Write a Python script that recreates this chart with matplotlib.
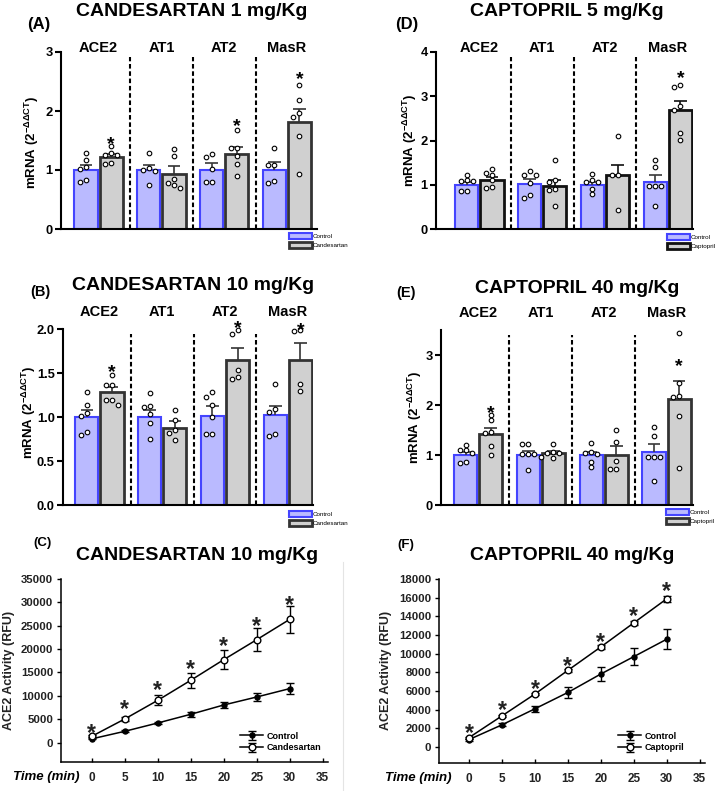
import matplotlib
matplotlib.use("Agg")
import matplotlib.pyplot as plt
from matplotlib.lines import Line2D
from matplotlib.transforms import blended_transform_factory
import numpy as np

plt.rcParams['font.family'] = ['Liberation Sans', 'DejaVu Sans']
plt.rcParams['mathtext.default'] = 'regular'

W, H = 720, 791
fig = plt.figure(figsize=(W / 100, H / 100), dpi=100)

genes = ["ACE2", "AT1", "AT2", "MasR"]

# ---------------- Panel A: Candesartan 1 mg/Kg ----------------
A_ctrl_mean = [1.00, 1.00, 1.00, 1.00]
A_ctrl_sem = [0.09, 0.08, 0.12, 0.13]
A_trt_mean = [1.22, 0.93, 1.27, 1.82]
A_trt_sem = [0.05, 0.13, 0.12, 0.22]
A_ctrl_pts = [[1.28, 1.17, 1.05, 1.02, 0.83, 0.80], [1.28, 1.03, 1.00, 0.98, 0.75],
              [1.27, 1.22, 1.02, 0.80, 0.80], [1.38, 1.08, 1.08, 0.81, 0.78]]
A_trt_pts = [[1.40, 1.28, 1.26, 1.26, 1.12, 1.10], [1.35, 1.23, 0.84, 0.78, 0.75, 0.70],
             [1.68, 1.38, 1.37, 1.23, 1.11, 0.89], [2.44, 2.19, 1.97, 1.90, 1.57, 0.93]]
A_stars = [1.54, None, 1.85, 2.64]

# ---------------- Panel B: Candesartan 10 mg/Kg ----------------
B_ctrl_mean = [1.00, 1.00, 1.01, 1.02]
B_ctrl_sem = [0.08, 0.08, 0.11, 0.11]
B_trt_mean = [1.28, 0.88, 1.65, 1.65]
B_trt_sem = [0.065, 0.07, 0.13, 0.19]
B_ctrl_pts = [[1.28, 1.14, 1.04, 1.01, 0.83, 0.80], [1.27, 1.13, 1.11, 1.03, 0.93, 0.75],
              [1.28, 1.23, 1.14, 1.00, 0.81, 0.81], [1.38, 1.09, 1.06, 0.81, 0.78]]
B_trt_pts = [[1.48, 1.36, 1.36, 1.19, 1.19, 1.14], [1.08, 0.97, 0.85, 0.82, 0.74],
             [1.99, 1.94, 1.53, 1.46, 1.43], [1.99, 1.98, 1.38, 1.29]]
B_stars = [1.58, None, 2.08, 2.06]

# ---------------- Panel D: Captopril 5 mg/Kg ----------------
D_ctrl_mean = [1.00, 1.02, 1.00, 1.06]
D_ctrl_sem = [0.07, 0.12, 0.07, 0.16]
D_trt_mean = [1.10, 0.97, 1.22, 2.68]
D_trt_sem = [0.08, 0.14, 0.23, 0.22]
D_ctrl_pts = [[1.22, 1.10, 1.08, 1.08, 0.87, 0.86], [1.32, 1.23, 1.23, 1.05, 0.76, 0.71],
              [1.25, 1.10, 1.06, 1.06, 0.91, 0.78], [1.57, 1.40, 0.98, 0.98, 0.98, 0.51]]
D_trt_pts = [[1.36, 1.27, 1.21, 1.10, 0.95, 0.92], [1.55, 1.10, 1.06, 0.90, 0.88, 0.53],
             [2.10, 1.21, 1.21, 0.42], [3.26, 3.22, 2.77, 2.68, 2.18, 2.02]]
D_stars = [None, None, None, 3.54]

# ---------------- Panel E: Captopril 40 mg/Kg ----------------
E_ctrl_mean = [1.00, 1.01, 1.00, 1.06]
E_ctrl_sem = [0.06, 0.08, 0.07, 0.16]
E_trt_mean = [1.42, 1.04, 1.01, 2.12]
E_trt_sem = [0.13, 0.05, 0.17, 0.37]
E_ctrl_pts = [[1.21, 1.11, 1.11, 1.05, 0.87, 0.85], [1.22, 1.22, 1.02, 1.02, 1.02, 0.70],
              [1.25, 1.07, 1.05, 1.02, 0.87, 0.77], [1.57, 1.39, 0.97, 0.97, 0.97, 0.49]]
E_trt_pts = [[1.80, 1.70, 1.47, 1.45, 1.18, 1.01], [1.22, 1.06, 1.05, 1.04, 0.97, 0.95],
             [1.50, 1.27, 0.89, 0.72, 0.72], [3.45, 2.45, 2.18, 2.17, 1.78, 0.75]]
E_stars = [1.97, None, None, 2.90]

# ---------------- Panels C and F: ACE2 activity ----------------
time_min = [0, 5, 10, 15, 20, 25, 30]
C_ctrl = [800, 2420, 4200, 6060, 8050, 9760, 11550]
C_ctrl_sem = [100, 200, 300, 500, 640, 850, 1140]
C_trt = [1350, 5060, 9050, 13330, 17750, 22020, 26370]
C_trt_sem = [250, 430, 1070, 1570, 1960, 2420, 2920]
C_stars = [3350, 8480, 12470, 17030, 22020, 26160, 30790]

F_ctrl = [790, 2370, 4090, 5840, 7820, 9680, 11550]
F_ctrl_sem = [100, 150, 300, 600, 750, 950, 1100]
F_trt = [1000, 3330, 5670, 8210, 10720, 13300, 15880]
F_trt_sem = [120, 120, 150, 150, 200, 250, 350]
F_stars = [2150, 4660, 6880, 9320, 11900, 14700, 17390]

CTRL_FILL = "#babaff"
CTRL_EDGE = "#4444ff"
TRT_FILL = "#d0d0d0"


def px_axes(x0, y0, x1, y1):
    return fig.add_axes([x0 / W, 1 - y1 / H, (x1 - x0) / W, (y1 - y0) / H])


def fig_y(py):
    return 1 - py / H


def swarm(vals, ppu_y, ppu_x, diam=4.8, step=6.0):
    placed = []
    offs = []
    for v in vals:
        for k in [0, -1, 1, -2, 2, -3, 3]:
            dx = k * step
            ok = True
            for pv, pdx in placed:
                if abs(pdx - dx) < diam and abs(pv - v) * ppu_y < diam:
                    ok = False
                    break
            if ok:
                break
        placed.append((v, dx))
        offs.append(dx / ppu_x)
    return np.array(offs)


def bar_panel(rect, xlim, ylim, yticks, yfmt, cm, cs, cp, tm, ts, tp, stars,
              trt_label, trt_edge, title, title_xy, plabel, plabel_xy, plabel_fs,
              cat_y, leg_xy, ylab_xy):
    x0, y0, x1, y1 = rect
    ax = px_axes(*rect)
    ax.set_xlim(*xlim)
    ax.set_ylim(*ylim)
    ppu_x = (x1 - x0) / (xlim[1] - xlim[0])
    ppu_y = (y1 - y0) / (ylim[1] - ylim[0])
    idx = np.arange(len(genes))
    off, bw = 0.2, 0.37
    b1 = ax.bar(idx - off, cm, bw, color=CTRL_FILL, edgecolor=CTRL_EDGE, linewidth=1.5, zorder=2)
    b2 = ax.bar(idx + off, tm, bw, color=TRT_FILL, edgecolor=trt_edge, linewidth=2.0, zorder=2)
    cm_, cs_, tm_, ts_ = map(np.asarray, (cm, cs, tm, ts))
    for xs, m, s, col in [(idx - off, cm_, cs_, "#3a3a3a"), (idx + off, tm_, ts_, trt_edge)]:
        ax.vlines(xs, m, m + s, color=col, lw=1.2, zorder=3)
        ax.hlines(m + s, xs - 0.1, xs + 0.1, color=col, lw=1.2, zorder=3)
    for i in idx:
        for pts, c in [(cp[i], i - off), (tp[i], i + off)]:
            dx = swarm(pts, ppu_y, ppu_x)
            ax.plot(c + dx, pts, 'o', ms=3.3, mfc='white', mec='black', mew=0.8,
                    ls='none', zorder=4, clip_on=False)
        if stars[i] is not None:
            ax.annotate("*", (i + off, stars[i]), xytext=(0, -8.0), textcoords="offset points",
                        ha="center", va="baseline", fontsize=14, fontweight="bold",
                        annotation_clip=False, zorder=5)
    for d in idx[:-1] + 0.5:
        ax.axvline(d, ymin=0, ymax=0.97, color="black", lw=1.5, ls=(0, (2.2, 1.3)), zorder=1)
    for s in ["top", "right"]:
        ax.spines[s].set_visible(False)
    ax.spines["left"].set_linewidth(1.5)
    ax.spines["bottom"].set_linewidth(1.5)
    ax.spines["left"].set_bounds(ylim[0], ylim[1])
    ax.set_xticks([])
    ax.set_yticks(yticks)
    ax.set_yticklabels([yfmt.format(t) for t in yticks], fontsize=9.3, fontweight="bold")
    ax.tick_params(axis="y", length=4.5, width=1.5, pad=1.5)
    tr = blended_transform_factory(ax.transData, fig.transFigure)
    for i, g in enumerate(genes):
        ax.text(i, fig_y(cat_y), g, transform=tr, ha="center", va="center",
                fontsize=10.5, fontweight="bold")
    fig.text(title_xy[0] / W, fig_y(title_xy[1]), title, ha="center", va="center",
             fontsize=14, fontweight="bold")
    fig.text(plabel_xy[0] / W, fig_y(plabel_xy[1]), plabel, ha="left", va="center",
             fontsize=plabel_fs, fontweight="bold")
    fig.text(ylab_xy[0] / W, fig_y(ylab_xy[1]), "mRNA (2$^{-ΔΔCT}$)", rotation=90,
             ha="center", va="center", fontsize=9.5, fontweight="bold")
    ax.legend([b1, b2], ["Control", trt_label], loc="upper left",
              bbox_to_anchor=(leg_xy[0] / W, fig_y(leg_xy[1])), bbox_transform=fig.transFigure,
              frameon=False, fontsize=4.5, handlelength=3.6, handleheight=1.15,
              borderpad=0, borderaxespad=0, labelspacing=0.45, handletextpad=0.15)
    return ax


bar_panel((61, 52, 317, 229), (-0.6, 3.48), (0, 3), [0, 1, 2, 3], "{:g}",
          A_ctrl_mean, A_ctrl_sem, A_ctrl_pts, A_trt_mean, A_trt_sem, A_trt_pts, A_stars,
          "Candesartan", "#333333", "CANDESARTAN 1 mg/Kg", (192, 11), "(A)", (27, 24), 12,
          48, (289, 233), (32, 142))

bar_panel((436, 52, 693, 229), (-0.69, 3.40), (0, 4), [0, 1, 2, 3, 4], "{:g}",
          D_ctrl_mean, D_ctrl_sem, D_ctrl_pts, D_trt_mean, D_trt_sem, D_trt_pts, D_stars,
          "Captopril", "#111111", "CAPTOPRIL 5 mg/Kg", (567, 11), "(D)", (395, 24), 12,
          48, (667, 234), (410, 140))

bar_panel((63, 329, 313, 505), (-0.58, 3.40), (0, 2.0), [0, 0.5, 1.0, 1.5, 2.0], "{:.1f}",
          B_ctrl_mean, B_ctrl_sem, B_ctrl_pts, B_trt_mean, B_trt_sem, B_trt_pts, B_stars,
          "Candesartan", "#333333", "CANDESARTAN 10 mg/Kg", (193, 285), "(B)", (30, 292), 10.5,
          312, (289, 511), (29, 412))

bar_panel((441, 330, 693, 505), (-0.59, 3.42), (0, 3.5), [0, 1, 2, 3], "{:g}",
          E_ctrl_mean, E_ctrl_sem, E_ctrl_pts, E_trt_mean, E_trt_sem, E_trt_pts, E_stars,
          "Captopril", "#333333", "CAPTOPRIL 40 mg/Kg", (577, 288), "(E)", (396, 293), 10.5,
          313, (666, 509), (415, 417))


def line_panel(rect, xlim, ylim, yticks, cm, cs, tm, ts, stars, trt_label, title, title_xy,
               plabel, plabel_xy, time_xy, ylab_xy, leg_xy):
    ax = px_axes(*rect)
    ax.set_xlim(*xlim)
    ax.set_ylim(*ylim)
    l1 = ax.errorbar(time_min, cm, yerr=cs, fmt='-o', color='black', ms=3.6, lw=1.1,
                     elinewidth=1.0, capsize=2.9, capthick=1.0, mfc='black', zorder=3)
    l2 = ax.errorbar(time_min, tm, yerr=ts, fmt='-o', color='black', ms=4.8, lw=1.1,
                     elinewidth=1.0, capsize=2.9, capthick=1.0, mfc='white', mew=1.0, zorder=4)
    for t, s in zip(time_min, stars):
        ax.annotate("*", (t, s), xytext=(0, -9.4), textcoords="offset points",
                    ha="center", va="baseline", fontsize=16.5, fontweight="bold",
                    color="#222222", annotation_clip=False, zorder=5)
    for s in ["top", "right"]:
        ax.spines[s].set_visible(False)
    ax.spines["left"].set_linewidth(1.1)
    ax.spines["bottom"].set_linewidth(1.1)
    ax.spines["left"].set_bounds(ylim[0], yticks[-1])
    ax.set_yticks(yticks)
    ax.set_yticklabels([str(t) for t in yticks], fontsize=8.2, fontweight="bold", color="#222222")
    xt = [0, 5, 10, 15, 20, 25, 30, 35]
    ax.set_xticks(xt)
    ax.set_xticklabels([str(t) for t in xt], fontsize=8.5, fontweight="bold", color="#222222")
    ax.tick_params(axis="y", length=3, width=1.0, pad=2.5, direction="out")
    ax.tick_params(axis="x", length=3, width=1.0, pad=7, direction="in")
    fig.text(title_xy[0] / W, fig_y(title_xy[1]), title, ha="center", va="center",
             fontsize=14, fontweight="bold")
    fig.text(plabel_xy[0] / W, fig_y(plabel_xy[1]), plabel, ha="left", va="center",
             fontsize=9.5, fontweight="bold")
    fig.text(time_xy[0] / W, fig_y(time_xy[1]), "Time (min)", ha="left", va="center",
             fontsize=9.5, fontweight="bold", fontstyle="italic")
    fig.text(ylab_xy[0] / W, fig_y(ylab_xy[1]), "ACE2 Activity (RFU)", rotation=90,
             ha="center", va="center", fontsize=9, fontweight="bold", color="#222222")
    ax.legend([l1, l2], ["Control", trt_label], loc="center left",
              bbox_to_anchor=(leg_xy[0] / W, fig_y(leg_xy[1])), bbox_transform=fig.transFigure,
              frameon=False, prop={"size": 6.5, "weight": "bold"}, handlelength=2.6,
              borderpad=0, borderaxespad=0, labelspacing=0.3, handletextpad=0.3)
    return ax


line_panel((61, 579, 328, 762), (-4.67, 35.8), (-4150, 35000),
           [0, 5000, 10000, 15000, 20000, 25000, 30000, 35000],
           C_ctrl, C_ctrl_sem, C_trt, C_trt_sem, C_stars, "Candesartan",
           "CANDESARTAN 10 mg/Kg", (197, 555), "(C)", (33, 543), (13, 777), (9, 670), (240, 742))

line_panel((439, 579, 705, 763), (-4.55, 35.8), (-1720, 18000),
           [0, 2000, 4000, 6000, 8000, 10000, 12000, 14000, 16000, 18000],
           F_ctrl, F_ctrl_sem, F_trt, F_trt_sem, F_stars, "Captopril",
           "CAPTOPRIL 40 mg/Kg", (572, 555), "(F)", (397, 545), (385, 778), (386, 670), (618, 742))

# faint image border line between the lower panels
fig.add_artist(Line2D([343 / W, 343 / W], [fig_y(562), fig_y(791)], color="#e4e4e4", lw=0.8))

fig.savefig("out.png", dpi=100)
